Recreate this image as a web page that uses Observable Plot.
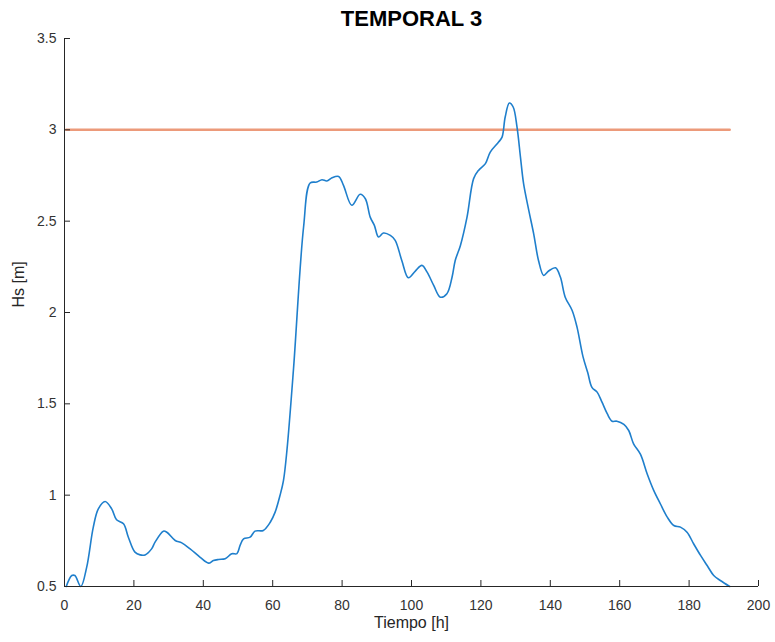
<!DOCTYPE html>
<html>
<head>
<meta charset="utf-8">
<script src="https://cdn.jsdelivr.net/npm/d3@7"></script>
<script src="https://cdn.jsdelivr.net/npm/@observablehq/plot@0.6"></script>
<style>
  html, body { margin: 0; padding: 0; background: #fff; }
  #chart { width: 775px; height: 642px; }
</style>
</head>
<body>
<div id="chart"></div>
<script>
// Data
const titleText = "TEMPORAL 3";
const xLabel = "Tiempo [h]";
const yLabel = "Hs [m]";
const xTicks = [0, 20, 40, 60, 80, 100, 120, 140, 160, 180, 200];
const yTicks = [0.5, 1, 1.5, 2, 2.5, 3, 3.5];
const threshold = 3;

const hours = [0.5, 2.1, 3.0, 4.7, 6.4, 8.3, 9.75, 11.7, 13.6, 15.0, 17.0, 18.4, 20.3, 21.8, 23.2, 25.1, 26.1, 28.5, 29.5, 31.9,
  33.8, 36.2, 39.1, 41.5, 42.9, 44.4, 46.3, 48.2, 49.7, 50.6, 51.6, 53.5, 54.9, 57.3, 59.3, 60.7, 62.1, 63.1, 64.1, 66.0,
  68.9, 70.8, 72.7, 74.2, 75.6, 77.1, 79.0, 80.4, 82.8, 85.2, 86.7, 88.1, 89.3, 90.5, 91.9, 93.9, 95.3, 97.2, 99.1, 101.1,
  103.0, 104.5, 106.4, 108.3, 110.2, 111.7, 112.6, 114.1, 116.0, 117.9, 119.3, 121.3, 122.7, 125.1, 126.1, 127.0, 128.2, 129.3, 130.4, 131.4,
  132.3, 133.8, 135.2, 136.6, 138.1, 139.5, 141.5, 142.9, 144.3, 146.3, 147.7, 149.4, 150.8, 152.0, 153.5, 154.9, 156.4, 157.8, 159.2, 161.2,
  162.6, 164.0, 166.0, 167.9, 169.8, 171.7, 173.7, 175.6, 177.5, 179.4, 181.3, 183.3, 185.2, 187.1, 189.0, 191.7];
const hs = [0.5, 0.56, 0.56, 0.5, 0.606, 0.825, 0.925, 0.965, 0.925, 0.865, 0.843, 0.77, 0.688, 0.673, 0.673, 0.706, 0.743, 0.803, 0.797, 0.752,
  0.739, 0.706, 0.66, 0.628, 0.642, 0.648, 0.652, 0.679, 0.68, 0.725, 0.761, 0.77, 0.803, 0.807, 0.852, 0.907, 0.998, 1.08, 1.245, 1.692,
  2.468, 2.709, 2.714, 2.727, 2.72, 2.738, 2.745, 2.696, 2.587, 2.647, 2.623, 2.522, 2.477, 2.413, 2.435, 2.422, 2.395, 2.285, 2.19, 2.227,
  2.258, 2.221, 2.148, 2.084, 2.103, 2.194, 2.285, 2.367, 2.522, 2.733, 2.778, 2.815, 2.878, 2.933, 2.96, 3.07, 3.147, 3.125, 3.016, 2.851,
  2.705, 2.559, 2.432, 2.285, 2.203, 2.227, 2.245, 2.194, 2.084, 2.011, 1.92, 1.76, 1.67, 1.59, 1.564, 1.509, 1.446, 1.405, 1.405, 1.387,
  1.354, 1.281, 1.223, 1.117, 1.026, 0.953, 0.88, 0.834, 0.825, 0.797, 0.734, 0.67, 0.615, 0.56, 0.533, 0.5];

const series = hours.map((t, i) => ({t, hs: hs[i]}));
const thresholdLine = [{t: d3.min(hours), v: threshold}, {t: d3.max(hours), v: threshold}];

const W = 775, H = 642;
const mL = 64, mR = 17, mT = 38, mB = 56;
const frameW = W - mL - mR, frameH = H - mT - mB;
const axisColor = "#262626";
const font = "'Liberation Sans', Helvetica, Arial, sans-serif";

const chart = Plot.plot({
  width: W,
  height: H,
  marginLeft: mL,
  marginRight: mR,
  marginTop: mT,
  marginBottom: mB,
  style: {fontFamily: font, background: "#fff", color: axisColor},
  x: {domain: [0, 200]},
  y: {domain: [0.5, 3.5]},
  marks: [
    Plot.line(thresholdLine, {x: "t", y: "v", stroke: "#EC9A7A", strokeWidth: 2.5}),
    Plot.line(series, {x: "t", y: "hs", stroke: "#1F7FCC", strokeWidth: 1.6, curve: "catmull-rom"}),
    // axis lines
    Plot.ruleY([0.5], {stroke: axisColor, strokeWidth: 1}),
    Plot.ruleX([0], {stroke: axisColor, strokeWidth: 1}),
    // inward ticks
    Plot.tickX(xTicks, {x: d => d, stroke: axisColor, insetTop: frameH - 6}),
    Plot.tickY(yTicks, {y: d => d, stroke: axisColor, insetRight: frameW - 6}),
    // tick labels
    Plot.axisX({ticks: xTicks, tickSize: 0, tickPadding: 14, fontSize: 14, label: null, tickFormat: d => String(d), fill: "#333"}),
    Plot.axisY({ticks: yTicks, tickSize: 0, tickPadding: 8, fontSize: 14, label: null, tickFormat: d => String(d), fill: "#333"}),
    // labels and title
    Plot.text([xLabel], {frameAnchor: "bottom", dy: 41, fontSize: 16, fill: "#262626"}),
    Plot.text([yLabel], {frameAnchor: "left", dx: -46, dy: -5, rotate: -90, fontSize: 16, fill: "#262626"}),
    Plot.text([titleText], {frameAnchor: "top", lineAnchor: "top", dy: -28, fontSize: 22, fontWeight: "bold", fill: "#000"})
  ]
});
document.getElementById("chart").appendChild(chart);
</script>
</body>
</html>
